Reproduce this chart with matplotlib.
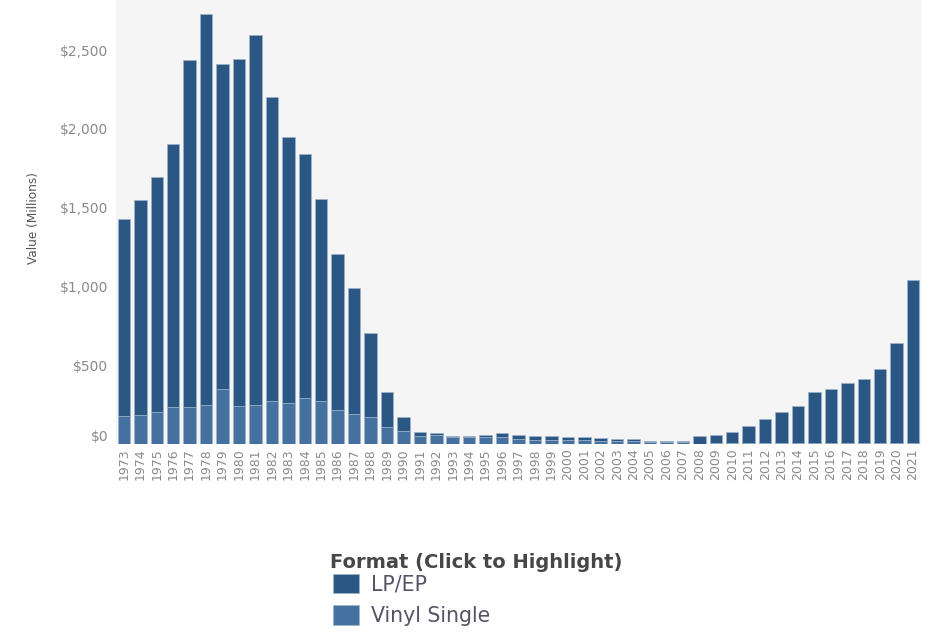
import matplotlib
matplotlib.use("Agg")
import matplotlib.pyplot as plt
from matplotlib.ticker import FuncFormatter

# vinyl revenue by year (millions of dollars)
years = list(range(1973, 2022))
lp_ep = [1251, 1362, 1487, 1667, 2201, 2479, 2061, 2203, 2351, 1927,
         1686, 1545, 1278, 986, 799, 534, 221, 87, 25, 12,
         4, 4, 8, 23, 25, 22, 22, 18, 18, 16,
         12, 12, 5, 5, 5, 46, 53, 74, 108, 152,
         199, 234, 323, 344, 380, 407, 469, 636, 1033]
vinyl_single = [178, 184, 205, 235, 235, 250, 348, 242, 246, 274,
                263, 293, 274, 218, 191, 170, 108, 83, 53, 58,
                47, 47, 47, 47, 30, 27, 27, 25, 25, 20,
                18, 18, 12, 12, 12, 3, 4, 4, 4, 5,
                5, 6, 6, 6, 6, 6, 6, 6, 7]
y_ticks = [0, 500, 1000, 1500, 2000, 2500]

lp_color = "#2b5784"
single_color = "#4471a0"
tick_color = "#8a8a8a"

fig = plt.figure(figsize=(9.51, 6.32), dpi=100)
ax = fig.add_axes((116 / 951, 1 - 444 / 632, 805 / 951, 444 / 632))
ax.set_facecolor("#f5f5f5")

x = list(range(len(years)))
b_single = ax.bar(x, vinyl_single, width=0.76, color=single_color,
                  edgecolor="#9fb3ca", linewidth=0.5, label="Vinyl Single")
b_lp = ax.bar(x, lp_ep, width=0.76, bottom=vinyl_single, color=lp_color,
              edgecolor="#9fb3ca", linewidth=0.5, label="LP/EP")

ax.set_xlim(-0.48, len(years) - 0.52)
ax.set_ylim(0, 2818)
ax.set_xticks(x)
ax.set_xticklabels([str(y) for y in years], rotation=90, fontsize=9,
                   color=tick_color)
ax.set_yticks(y_ticks)
ax.yaxis.set_major_formatter(FuncFormatter(lambda v, p: f"${v:,.0f}"))
ax.tick_params(axis="y", labelsize=10, labelcolor=tick_color)
ax.tick_params(axis="both", length=0)
ax.tick_params(axis="x", pad=3)
ax.tick_params(axis="y", pad=5.5)
# the $0 label sits just above the baseline
ax.get_yticklabels()[0].set_va("bottom")
for s in ax.spines.values():
    s.set_visible(False)

fig.text(33 / 951, 1 - 218 / 632, "Value (Millions)", rotation=90,
         ha="center", va="center", fontsize=8.7, color="#555555")

# legend title drawn separately so the item spacing can be tuned on its own
fig.text(330 / 951, 1 - 562 / 632, "Format (Click to Highlight)",
         ha="left", va="center", fontsize=14, fontweight="bold",
         color="#474747")
leg = fig.legend([b_lp, b_single], ["LP/EP", "Vinyl Single"],
                 loc="upper left", bbox_to_anchor=(333 / 951, 1 - 574 / 632),
                 frameon=False, fontsize=14.8,
                 handlelength=1.27, handleheight=1.07, handletextpad=0.6,
                 labelspacing=0.52, borderpad=0, borderaxespad=0)
for t in leg.get_texts():
    t.set_color("#575266")

fig.savefig("out.png", dpi=100, facecolor="white")
